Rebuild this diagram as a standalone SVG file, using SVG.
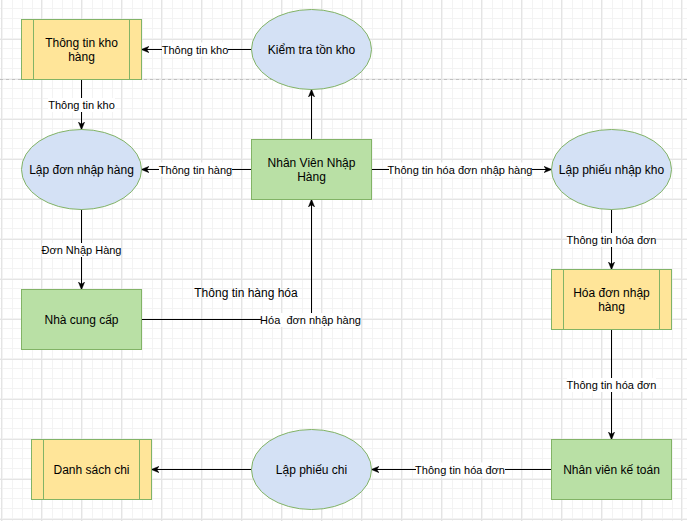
<svg xmlns="http://www.w3.org/2000/svg" width="687" height="521" viewBox="0 0 687 521">
<style>
.store{fill:#ffe599;stroke:#82b366;stroke-width:1}
.ent{fill:#b9e0a5;stroke:#82b366;stroke-width:1}
.proc{fill:#d4e1f5;stroke:#82b366;stroke-width:1}
.inner{stroke:#82b366;stroke-width:1;fill:none}
.nt{font-family:"Liberation Sans",Arial,sans-serif;font-size:12px;fill:#000;text-anchor:middle}
.et{font-family:"Liberation Sans",Arial,sans-serif;font-size:11px;fill:#000;text-anchor:middle;white-space:pre}
.edge{fill:none;stroke:#000;stroke-width:1;marker-end:url(#arr)}
.lbg{fill:#fff}
</style>
<defs>
<pattern id="minor" width="10" height="10" patternUnits="userSpaceOnUse" x="1" y="-1">
<path d="M0.5,0 V10 M0,0.5 H10" stroke="#f3f3f3" stroke-width="1" fill="none"/>
</pattern>
<pattern id="major" width="40" height="40" patternUnits="userSpaceOnUse" x="1" y="-1">
<rect width="40" height="40" fill="url(#minor)"/>
<path d="M0.5,0 V40 M0,0.5 H40" stroke="#e4e4e4" stroke-width="1" fill="none"/>
</pattern>
<marker id="arr" viewBox="0 0 10 10" refX="9.5" refY="5" markerWidth="8" markerHeight="8" markerUnits="userSpaceOnUse" orient="auto">
<path d="M0,1 L10,5 L0,9 L3,5 z" fill="#000" stroke="#000" stroke-width="0.5"/>
</marker>
</defs>
<rect width="687" height="521" fill="#fff"/>
<rect width="687" height="521" fill="url(#major)"/>
<line x1="0" y1="79.5" x2="687" y2="79.5" stroke="#c0c0c0" stroke-width="1" stroke-dasharray="3,3"/>

<g id="connectors">
<path class="edge" d="M251.5,49.5 L141.5,49.5"/>
<path class="edge" d="M81.5,79.5 L81.5,129.5"/>
<path class="edge" d="M311.5,139.5 L311.5,89.5"/>
<path class="edge" d="M251.5,169.5 L141.5,169.5"/>
<path class="edge" d="M371.5,169.5 L551.5,169.5"/>
<path class="edge" d="M81.5,209.5 L81.5,289.5"/>
<path class="edge" d="M141.5,319.5 L311.5,319.5 L311.5,199.5"/>
<path class="edge" d="M611.5,209.5 L611.5,269.5"/>
<path class="edge" d="M611.5,329.5 L611.5,439.5"/>
<path class="edge" d="M551.5,469.5 L371.5,469.5"/>
<path class="edge" d="M251.5,469.5 L151.5,469.5"/>

<rect class="lbg" x="162" y="42.5" width="66" height="14"/>
<text class="et" x="195" y="53.5">Thông tin kho</text>
<rect class="lbg" x="48" y="98" width="67" height="14"/>
<text class="et" x="81.5" y="109">Thông tin kho</text>
<rect class="lbg" x="159" y="162.5" width="73" height="14"/>
<text class="et" x="195.5" y="173.5">Thông tin hàng</text>
<rect class="lbg" x="389" y="162.5" width="143" height="14"/>
<text class="et" x="460" y="173.5">Thông tin hóa đơn nhập hàng</text>
<rect class="lbg" x="42" y="243" width="79" height="14"/>
<text class="et" x="81.5" y="254">Đơn Nhập Hàng</text>
<rect class="lbg" x="261" y="313" width="99" height="14"/>
<text class="et" x="310.5" y="324">Hóa  đơn nhập hàng</text>
<rect class="lbg" x="567" y="233" width="89" height="14"/>
<text class="et" x="611.5" y="244">Thông tin hóa đơn</text>
<rect class="lbg" x="567" y="378" width="89" height="14"/>
<text class="et" x="611.5" y="389">Thông tin hóa đơn</text>
<rect class="lbg" x="416" y="462.5" width="89" height="14"/>
<text class="et" x="460" y="473.5">Thông tin hóa đơn</text>
</g>

<text class="nt" x="246" y="297">Thông tin hàng hóa</text>

<g id="thong-tin-kho-hang">
<rect class="store" x="21.5" y="19.5" width="120" height="60"/>
<path class="inner" d="M33.5,19.5 V79.5 M129.5,19.5 V79.5"/>
<text class="nt" x="81.5" y="47">Thông tin kho</text>
<text class="nt" x="81.5" y="61">hàng</text>
</g>
<g id="kiem-tra-ton-kho">
<ellipse class="proc" cx="311.5" cy="49.5" rx="60" ry="40"/>
<text class="nt" x="311.5" y="54">Kiểm tra tồn kho</text>
</g>
<g id="lap-don-nhap-hang">
<ellipse class="proc" cx="81.5" cy="169.5" rx="60" ry="40"/>
<text class="nt" x="81.5" y="174">Lập đơn nhập hàng</text>
</g>
<g id="nhan-vien-nhap-hang">
<rect class="ent" x="251.5" y="139.5" width="120" height="60"/>
<text class="nt" x="311.5" y="167">Nhân Viên Nhập</text>
<text class="nt" x="311.5" y="181">Hàng</text>
</g>
<g id="lap-phieu-nhap-kho">
<ellipse class="proc" cx="611.5" cy="169.5" rx="60" ry="40"/>
<text class="nt" x="611.5" y="174">Lập phiếu nhập kho</text>
</g>
<g id="nha-cung-cap">
<rect class="ent" x="21.5" y="289.5" width="120" height="60"/>
<text class="nt" x="81.5" y="324">Nhà cung cấp</text>
</g>
<g id="hoa-don-nhap-hang">
<rect class="store" x="551.5" y="269.5" width="120" height="60"/>
<path class="inner" d="M563.5,269.5 V329.5 M659.5,269.5 V329.5"/>
<text class="nt" x="611.5" y="297">Hóa đơn nhập</text>
<text class="nt" x="611.5" y="311">hàng</text>
</g>
<g id="nhan-vien-ke-toan">
<rect class="ent" x="551.5" y="439.5" width="120" height="60"/>
<text class="nt" x="611.5" y="474">Nhân viên kế toán</text>
</g>
<g id="lap-phieu-chi">
<ellipse class="proc" cx="311.5" cy="469.5" rx="60" ry="40"/>
<text class="nt" x="311.5" y="474">Lập phiếu chi</text>
</g>
<g id="danh-sach-chi">
<rect class="store" x="31.5" y="439.5" width="120" height="60"/>
<path class="inner" d="M43.5,439.5 V499.5 M139.5,439.5 V499.5"/>
<text class="nt" x="91.5" y="474">Danh sách chi</text>
</g>
</svg>
